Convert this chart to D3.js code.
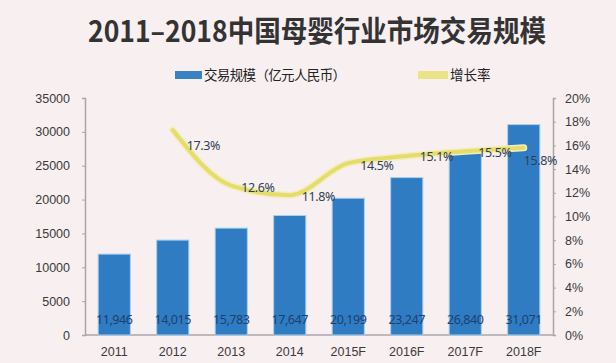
<!DOCTYPE html>
<html>
<head>
<meta charset="utf-8">
<script src="https://cdn.jsdelivr.net/npm/d3@7"></script>
<style>
  html, body { margin: 0; padding: 0; background: #f8eff1; }
  svg { display: block; font-family: "Noto Sans", "Noto Sans CJK SC", sans-serif; }
</style>
</head>
<body>
<svg id="chart" width="616" height="363"></svg>
<script>
/* Mother & baby market size 2011-2018 — bars + growth line. */

const years = ["2011", "2012", "2013", "2014", "2015F", "2016F", "2017F", "2018F"];
const volume = [11946, 14015, 15783, 17647, 20199, 23247, 26840, 31071];
const growth = [null, 17.3, 12.6, 11.8, 14.5, 15.1, 15.5, 15.8];
const leftTicks = [0, 5000, 10000, 15000, 20000, 25000, 30000, 35000];
const rightTicks = [0, 2, 4, 6, 8, 10, 12, 14, 16, 18, 20];

const W = 616, H = 363;
const M = { top: 98, right: 63, bottom: 28, left: 85 };

const svg = d3.select("#chart");

const x = d3.scaleBand().domain(years).range([M.left, W - M.right]).paddingInner(0.45).paddingOuter(0.225);
const yL = d3.scaleLinear().domain([0, 35000]).range([H - M.bottom, M.top]);
const yR = d3.scaleLinear().domain([0, 20]).range([H - M.bottom, M.top]);

/* ---------- Title + legend ---------- */

svg.append("text")
  .attr("x", 88).attr("y", 42)
  .attr("font-size", 29).attr("font-weight", "bold")
  .attr("fill", "#333")
  .attr("font-family", "'Noto Sans CJK SC', sans-serif")
  .attr("textLength", 458).attr("lengthAdjust", "spacingAndGlyphs")
  .text("2011–2018中国母婴行业市场交易规模");

const legend = svg.append("g").attr("font-family", "'Noto Sans CJK SC', sans-serif")
  .attr("font-size", 13.5).attr("fill", "#222");
legend.append("rect").attr("x", 175).attr("y", 71).attr("width", 27).attr("height", 8).attr("fill", "#3a82c4");
legend.append("text").attr("x", 204).attr("y", 80).attr("textLength", 142).text("交易规模（亿元人民币）");
legend.append("rect").attr("x", 418).attr("y", 71).attr("width", 30).attr("height", 8).attr("fill", "#ebe38a");
legend.append("text").attr("x", 450).attr("y", 80).text("增长率");

/* ---------- Axes ---------- */

const axisCol = "#a9a6a8";

const gl = svg.append("g").attr("transform", `translate(${M.left},0)`)
  .call(d3.axisLeft(yL).tickValues(leftTicks).tickSize(3).tickPadding(12).tickFormat(d3.format("d")));
const gr = svg.append("g").attr("transform", `translate(${W - M.right},0)`)
  .call(d3.axisRight(yR).tickValues(rightTicks).tickSize(3).tickPadding(9).tickFormat((d) => d + "%"));
const gb = svg.append("g").attr("transform", `translate(0,${H - M.bottom})`)
  .call(d3.axisBottom(x).tickSize(0).tickPadding(12));

[gl, gr, gb].forEach((g) => {
  g.select(".domain").attr("stroke", axisCol).attr("stroke-width", 1.5);
  g.selectAll(".tick line").attr("stroke", axisCol);
  g.selectAll(".tick text").attr("fill", "#3a3a3a").attr("font-size", 12.5);
});
gb.select(".domain").attr("d", `M${M.left},0H${W - M.right}`);

/* ---------- Bars ---------- */

svg.append("g").selectAll("rect")
  .data(years)
  .join("rect")
  .attr("x", (d) => x(d))
  .attr("width", x.bandwidth())
  .attr("y", (d, i) => yL(volume[i]))
  .attr("height", (d, i) => yL(0) - yL(volume[i]))
  .attr("fill", "#2f7cc2")
  .attr("stroke", "#a7cff0")
  .attr("stroke-width", 1);

svg.append("g").selectAll("text")
  .data(years)
  .join("text")
  .attr("x", (d) => x(d) + x.bandwidth() / 2)
  .attr("y", yL(0) - 11)
  .attr("text-anchor", "middle")
  .attr("font-size", 12.5)
  .attr("letter-spacing", -0.4)
  .attr("fill", "#1d3f73")
  .text((d, i) => d3.format(",")(volume[i]));

/* ---------- Growth line ---------- */

const pts = years.map((d, i) => ({ yr: d, v: growth[i] })).filter((p) => p.v != null);
const cx = (p) => x(p.yr) + x.bandwidth() / 2;

const line = d3.line().x(cx).y((p) => yR(p.v)).curve(d3.curveMonotoneX);

svg.append("path").datum(pts).attr("d", line)
  .attr("fill", "none").attr("stroke", "#f3eec0").attr("stroke-width", 7)
  .attr("stroke-linecap", "round").attr("stroke-linejoin", "round");
svg.append("path").datum(pts).attr("d", line)
  .attr("fill", "none").attr("stroke", "#e6dc6a").attr("stroke-width", 4)
  .attr("stroke-linecap", "round").attr("stroke-linejoin", "round");

// label offsets relative to each point (Excel-ish "right" placement)
const labelOff = [[14, 20], [10, 6], [12, 6], [12, 7], [13, 5], [13, 6], [0, 17]];

svg.append("g").selectAll("text")
  .data(pts)
  .join("text")
  .attr("x", (p, i) => cx(p) + labelOff[i][0])
  .attr("y", (p, i) => yR(p.v) + labelOff[i][1])
  .attr("font-size", 12.5)
  .attr("letter-spacing", -0.4)
  .attr("fill", "#2f3f55")
  .text((p) => p.v.toFixed(1) + "%");
</script>
</body>
</html>
